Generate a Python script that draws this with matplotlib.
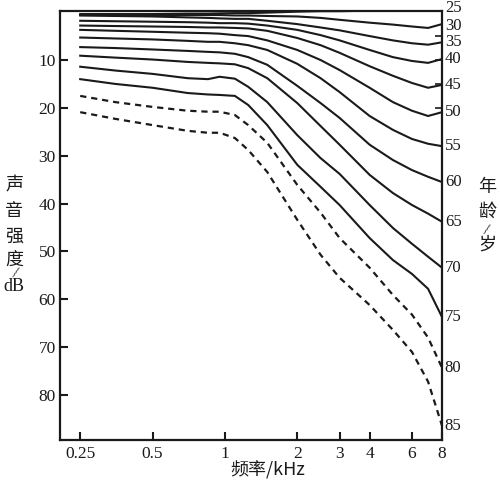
import matplotlib
matplotlib.use('Agg')
import matplotlib.pyplot as plt

# ------------------------------
# Data
# ------------------------------
freqs = [0.25, 0.35, 0.5, 0.7, 0.85, 0.95, 1.1, 1.25, 1.5, 2, 2.5, 3, 4, 5, 6, 7, 8]

age_25 = [0.4, 0.4, 0.4, 0.3, 0.3, 0.25, 0.2, 0.2, 0.1, -0.1, -0.2, -0.2, -0.3, -0.3, -0.3, -0.3, -0.3]
age_30 = [0.6, 0.6, 0.6, 0.6, 0.6, 0.6, 0.7, 0.7, 0.8, 0.9, 1.2, 1.6, 2.2, 2.6, 3.0, 3.3, 2.5]
age_35 = [0.7, 0.8, 0.9, 1.1, 1.2, 1.3, 1.4, 1.4, 1.8, 2.5, 3.2, 3.8, 5.0, 5.9, 6.5, 6.8, 6.3]
age_40 = [1.8, 1.9, 2.0, 2.1, 2.2, 2.3, 2.3, 2.4, 2.8, 3.7, 4.8, 5.9, 7.9, 9.4, 10.2, 10.6, 9.8]
age_45 = [2.8, 2.9, 3.0, 3.1, 3.2, 3.2, 3.3, 3.4, 3.9, 5.4, 6.9, 8.5, 11.3, 13.3, 14.8, 15.8, 15.2]
age_50 = [3.7, 3.9, 4.1, 4.3, 4.4, 4.5, 4.8, 5.0, 5.9, 7.9, 10.0, 12.1, 15.8, 18.8, 20.6, 21.7, 20.9]
age_55 = [5.3, 5.5, 5.7, 6.0, 6.2, 6.2, 6.5, 6.9, 7.9, 10.8, 13.8, 16.7, 21.7, 24.6, 26.5, 27.5, 28.0]
age_60 = [7.3, 7.5, 7.8, 8.1, 8.3, 8.4, 8.7, 9.4, 11.0, 15.4, 19.0, 22.1, 27.7, 30.9, 33.0, 34.4, 35.5]
age_65 = [9.1, 9.5, 9.9, 10.4, 10.6, 10.7, 10.9, 11.7, 13.8, 19.0, 23.8, 27.7, 34.0, 37.8, 40.3, 42.1, 43.8]
age_70 = [11.4, 12.2, 12.9, 13.8, 14.0, 13.5, 13.9, 15.6, 18.8, 25.7, 30.5, 33.8, 40.3, 45.1, 48.4, 51.1, 53.4]
age_75 = [14.0, 15.0, 15.8, 16.9, 17.2, 17.3, 17.5, 19.4, 23.6, 31.9, 36.5, 40.3, 47.2, 51.8, 54.7, 57.8, 63.7]
age_80 = [17.5, 18.8, 19.8, 20.6, 20.8, 20.8, 21.5, 23.6, 27.3, 36.1, 41.9, 47.2, 53.4, 59.1, 63.2, 68.0, 74.3]
age_85 = [20.9, 22.3, 23.6, 24.8, 25.2, 25.2, 26.3, 28.8, 33.4, 43.4, 50.7, 55.5, 61.2, 66.4, 71.0, 77.2, 86.4]

ages = [25, 30, 35, 40, 45, 50, 55, 60, 65, 70, 75, 80, 85]
curves = [age_25, age_30, age_35, age_40, age_45, age_50, age_55,
          age_60, age_65, age_70, age_75, age_80, age_85]
dashed_ages = [80, 85]

xticks = [0.25, 0.5, 1, 2, 3, 4, 6, 8]
xtick_labels = ['0.25', '0.5', '1', '2', '3', '4', '6', '8']
yticks = [10, 20, 30, 40, 50, 60, 70, 80]
right_ticks = [5, 10, 15, 20]

# ------------------------------
# Plot
# ------------------------------
SERIF = 'Liberation Serif'
CJK = ['Noto Sans CJK SC', 'DejaVu Sans']
INK = '#1a1a1a'

fig = plt.figure(figsize=(5.0, 4.87), dpi=100)
ax = fig.add_axes([0.12, 0.0965, 0.764, 0.8815])

# nudge the two crowded labels at the top apart (points)
label_nudge = {25: 2.0, 30: -1.5}

for age, vals in zip(ages, curves):
    if age in dashed_ages:
        ax.plot(freqs, vals, color=INK, lw=1.6, linestyle=(0, (2.8, 2.2)))
    else:
        ax.plot(freqs, vals, color=INK, lw=1.5)
    ax.annotate(str(age), xy=(8, vals[-1]), xytext=(2, label_nudge.get(age, 0)),
                textcoords='offset points', ha='left', va='center',
                fontsize=12, family=SERIF, color=INK, annotation_clip=False)

ax.set_xscale('log')
ax.set_xlim(0.206, 8)
ax.set_ylim(89.4, -0.3)

ax.set_xticks(xticks)
ax.set_xticklabels(xtick_labels)
ax.xaxis.set_minor_locator(matplotlib.ticker.NullLocator())
ax.set_yticks(yticks)
ax.set_yticklabels([str(v) for v in yticks])

ax.tick_params(axis='both', direction='in', length=6, width=1.5, labelsize=12.5, pad=4,
               colors=INK)
ax.tick_params(axis='y', pad=3)
for lab in ax.get_xticklabels() + ax.get_yticklabels():
    lab.set_family(SERIF)

# short inner ticks on the right spine
ax2 = ax.twinx()
ax2.set_ylim(ax.get_ylim())
ax2.set_yticks(right_ticks)
ax2.set_yticklabels([])
ax2.tick_params(axis='y', direction='in', length=5, width=1.2, colors=INK)
for s in ax2.spines.values():
    s.set_visible(False)

for s in ax.spines.values():
    s.set_linewidth(1.6)
    s.set_color(INK)

# y title, stacked one character per line
for ch, y in zip(['声', '音', '强', '度'], [0.620, 0.567, 0.513, 0.466]):
    fig.text(0.028, y, ch, family=CJK, fontsize=13, ha='center', va='center', color=INK)
fig.text(0.030, 0.437, '/', family=SERIF, fontsize=12, ha='center', va='center',
         rotation=-15, color=INK)
fig.text(0.028, 0.411, 'dB', family=SERIF, fontsize=13, ha='center', va='center', color=INK)

# right title
for ch, y in zip(['年', '龄'], [0.616, 0.565]):
    fig.text(0.974, y, ch, family=CJK, fontsize=13, ha='center', va='center', color=INK)
fig.text(0.972, 0.527, '/', family=SERIF, fontsize=12, ha='center', va='center',
         rotation=-15, color=INK)
fig.text(0.974, 0.497, '岁', family=CJK, fontsize=13, ha='center', va='center', color=INK)

fig.text(0.535, 0.035, '频率/kHz', family=CJK, fontsize=13, ha='center', va='center',
         color=INK)

fig.savefig('out.png', dpi=100, facecolor='white')
